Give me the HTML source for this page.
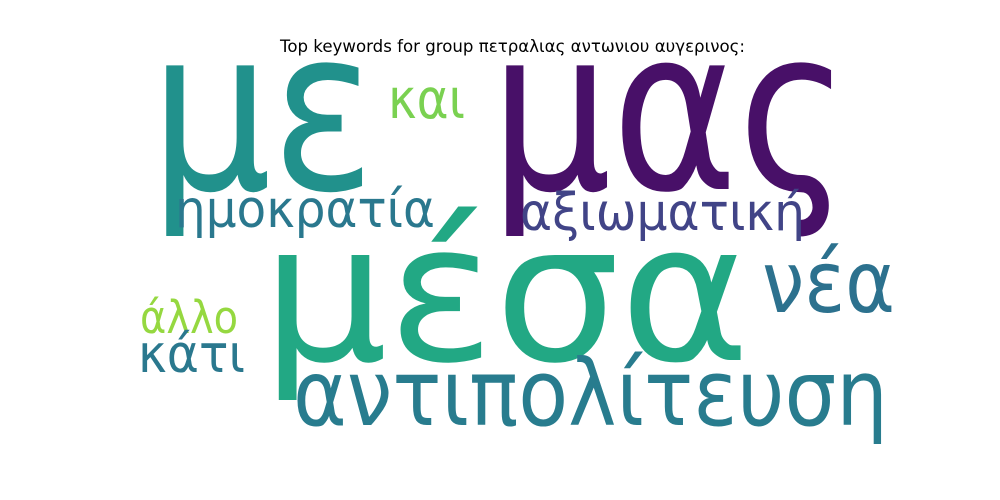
<!DOCTYPE html>
<html><head><meta charset="utf-8"><style>
html,body{margin:0;padding:0;background:#fff;width:1000px;height:500px;overflow:hidden}
svg text{font-family:"DejaVu Sans","Liberation Sans",sans-serif}
</style></head><body>
<svg width="1000" height="500">
<text x="280" y="52" font-size="16.5" textLength="465" lengthAdjust="spacingAndGlyphs" fill="#000">Top keywords for group πετραλιας αντωνιου αυγερινος:</text>
<g id="words"></g>
</svg>
<script>
const words=["με","μας","μέσα","και","ημοκρατία","αξιωματική","νέα","άλλο","κάτι","αντιπολίτευση"];
const sizes=[226,226,192,55,52,52,86,45,53,92];
const colors=["#21918c","#481068","#22a884","#7ad151","#2a788e","#414487","#2c718e","#95d840","#2a788e","#287c8e"];
const xs=[150,490,262,388,175,520,762,140,138,293];
const ys=[189,189,360,118,227,230,312,333,372,425];
const ws=[225,360,488,77,260,285,133,98,107,595];
const g=document.getElementById('words');
words.forEach((w,i)=>{
  const t=document.createElementNS('http://www.w3.org/2000/svg','text');
  t.setAttribute('x',xs[i]);t.setAttribute('y',ys[i]);
  t.setAttribute('font-size',sizes[i]);t.setAttribute('fill',colors[i]);
  t.setAttribute('textLength',ws[i]);t.setAttribute('lengthAdjust','spacingAndGlyphs');
  
  
  t.textContent=w;g.appendChild(t);
});
</script>
</body></html>
